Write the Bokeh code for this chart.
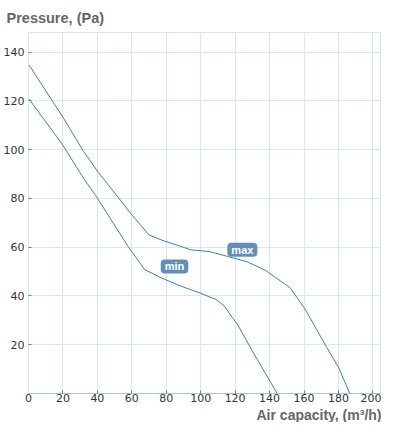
from bokeh.plotting import figure
from bokeh.models import Range1d, FixedTicker, Label, Title
from bokeh.embed import file_html
from bokeh.resources import INLINE

# Curve "max"
max_x = [0, 19.5, 32, 40.6, 52.2, 59.8, 70, 77, 94.4, 105, 115.6, 127, 137.6, 152, 160.7, 173.2, 180, 186.6]
max_y = [135, 113.8, 99.2, 90.6, 80.3, 73.4, 65, 63, 58.9, 58.2, 56.2, 54, 50.5, 43.3, 34.5, 18.9, 10.8, 0]

# Curve "min"
min_x = [0, 19.5, 32, 39.7, 57.9, 67.5, 77.1, 88.6, 99.2, 108.8, 113.7, 118.4, 121.3, 131, 144.4]
min_y = [121, 102.3, 88.2, 80.4, 60.2, 50.8, 47.4, 44, 41.3, 38.6, 35.9, 31.1, 28.4, 16.2, 0]

x_ticks = [0, 20, 40, 60, 80, 100, 120, 140, 160, 180, 200]
y_ticks = [20, 40, 60, 80, 100, 120, 140]

label_texts = ["max", "min"]
label_x = [124.2, 84.8]
label_y = [58.9, 52.1]

GRID = "#d6e9f0"
LINE = "#3a80c2"
TICK = "#3d8ad6"

p = figure(width=381, height=422, x_range=Range1d(0, 205), y_range=Range1d(0, 148),
           output_backend="svg", toolbar_location=None)
p.min_border_left = 0
p.min_border_right = 0
p.min_border_top = 0
p.min_border_bottom = 0
p.background_fill_color = "white"
p.border_fill_color = "white"
p.outline_line_color = GRID

p.line(max_x, max_y, line_color=LINE, line_width=1.0)
p.line(min_x, min_y, line_color=LINE, line_width=1.0)

p.xaxis.ticker = FixedTicker(ticks=x_ticks)
p.yaxis.ticker = FixedTicker(ticks=y_ticks)
p.xgrid.ticker = FixedTicker(ticks=x_ticks)
p.ygrid.ticker = FixedTicker(ticks=y_ticks)
p.xgrid.grid_line_color = GRID
p.ygrid.grid_line_color = GRID

for ax in (p.xaxis, p.yaxis):
    ax.minor_tick_line_color = None
    ax.major_tick_in = 3
    ax.major_tick_out = 0
    ax.major_tick_line_color = TICK
    ax.major_label_text_font = "DejaVu Sans"
    ax.major_label_text_font_size = "11px"
    ax.major_label_text_color = "#333333"
p.xaxis.major_label_standoff = 0
p.yaxis.major_label_standoff = 4
p.xaxis.axis_line_color = "#9fc6e4"
p.yaxis.axis_line_color = GRID

p.title.text = "Pressure, (Pa)"
p.title.align = "left"
p.title.offset = -22
p.title.text_font = "Liberation Sans"
p.title.text_font_size = "14.5px"
p.title.text_font_style = "bold"
p.title.text_color = "#666666"
p.title.standoff = 14

xt = Title(text="Air capacity, (m³/h)", align="right", offset=0,
           text_font="Liberation Sans", text_font_size="14px",
           text_font_style="bold", text_color="#666666", standoff=0)
p.add_layout(xt, "below")

for t, lx, ly in zip(label_texts, label_x, label_y):
    p.add_layout(Label(x=lx, y=ly, text=t, text_align="center", text_baseline="middle",
                       text_font="Liberation Sans", text_font_size="11px", text_font_style="bold",
                       text_color="white", background_fill_color="#5f90bd",
                       border_radius=4, padding=(4, 1)))

open("out.html", "w").write(file_html(p, INLINE))
